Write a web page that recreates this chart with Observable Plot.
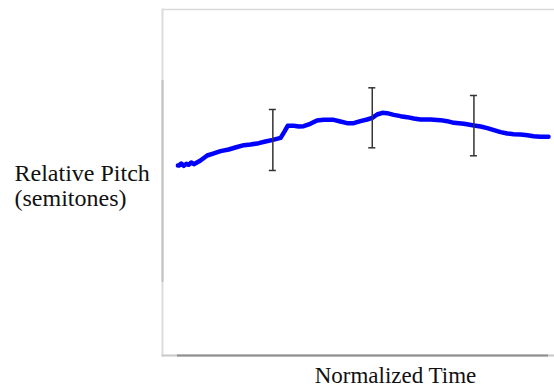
<!DOCTYPE html>
<html>
<head>
<meta charset="utf-8">
<script src="https://cdn.jsdelivr.net/npm/d3@7"></script>
<script src="https://cdn.jsdelivr.net/npm/@observablehq/plot@0.6"></script>
<style>
  html, body { margin: 0; padding: 0; background: #fff; }
  #chart svg { display: block; }
</style>
</head>
<body>
<div id="chart"></div>
<script>
// Normalized time (0–1) and relative pitch (semitones)
const time = [0.001, 0.004, 0.010, 0.017, 0.024, 0.030, 0.037, 0.044, 0.062, 0.080, 0.094, 0.116, 0.138, 0.156, 0.179, 0.197, 0.219, 0.237, 0.257, 0.278, 0.289, 0.297, 0.313, 0.327, 0.340, 0.358, 0.376, 0.394, 0.421, 0.439, 0.457, 0.475, 0.493, 0.511, 0.525, 0.538, 0.552, 0.565, 0.583, 0.601, 0.619, 0.637, 0.655, 0.682, 0.709, 0.727, 0.745, 0.772, 0.799, 0.817, 0.835, 0.853, 0.871, 0.889, 0.906, 0.925, 0.943, 0.960, 0.978, 1.000];
const pitch = [0.317, 0.317, 0.356, 0.310, 0.350, 0.330, 0.376, 0.343, 0.416, 0.515, 0.548, 0.601, 0.634, 0.673, 0.719, 0.733, 0.759, 0.792, 0.825, 0.865, 0.997, 1.102, 1.102, 1.089, 1.096, 1.142, 1.208, 1.221, 1.221, 1.188, 1.155, 1.155, 1.195, 1.228, 1.261, 1.327, 1.360, 1.353, 1.320, 1.294, 1.274, 1.248, 1.228, 1.228, 1.215, 1.195, 1.162, 1.142, 1.109, 1.089, 1.056, 1.016, 0.977, 0.950, 0.937, 0.931, 0.917, 0.898, 0.884, 0.884];

// Error bars
const errTime = [0.257, 0.525, 0.799];
const errLow  = [0.218, 0.667, 0.509];
const errHigh = [1.426, 1.855, 1.703];

const yLabel = "Relative Pitch\n(semitones)";
const xLabel = "Normalized Time";

const series = time.map((t, i) => ({t, v: pitch[i]}));
const errs = errTime.map((t, i) => ({t, lo: errLow[i], hi: errHigh[i]}));
const cap = 0.0095;

const font = "Liberation Serif";

const chart = Plot.plot({
  width: 554,
  height: 387,
  marginLeft: 162,
  marginRight: 0,
  marginTop: 9,
  marginBottom: 32,
  style: {fontFamily: font, background: "#fff", overflow: "visible"},
  x: {domain: [0, 1], insetLeft: 15, insetRight: 6, axis: null},
  y: {domain: [-2, 2], insetTop: 71, insetBottom: 73, axis: null},
  marks: [
    Plot.frame({anchor: "top", stroke: "#d9d9d9", strokeWidth: 1.5}),
    Plot.frame({anchor: "left", stroke: "#dcdcdc", strokeWidth: 2}),
    Plot.frame({anchor: "bottom", stroke: "#c8c8c8", strokeWidth: 2}),
    Plot.ruleX([0], {x: 0, dx: -15, y1: -2, y2: 2, stroke: "#c2c2c2", strokeWidth: 2}),
    Plot.ruleY([-2], {y: -2, dy: 73, x1: 0, x2: 1, stroke: "#8e8e8e", strokeWidth: 2}),
    Plot.line(series, {x: "t", y: "v", stroke: "#0000ff", strokeWidth: 4.5, strokeLinecap: "round", strokeLinejoin: "round"}),
    Plot.ruleX(errs, {x: "t", y1: "lo", y2: "hi", stroke: "#333", strokeWidth: 1.5}),
    Plot.ruleY(errs, {y: "hi", x1: d => d.t - cap, x2: d => d.t + cap, stroke: "#333", strokeWidth: 1.5}),
    Plot.ruleY(errs, {y: "lo", x1: d => d.t - cap, x2: d => d.t + cap, stroke: "#333", strokeWidth: 1.5}),
    Plot.text([yLabel], {text: d => d, frameAnchor: "left", textAnchor: "start", lineAnchor: "middle", dx: -148, dy: 3, fontSize: 24, fontFamily: font, lineHeight: 1.04, fill: "#111"}),
    Plot.text([xLabel], {text: d => d, frameAnchor: "bottom", textAnchor: "middle", lineAnchor: "bottom", dx: 37, dy: 27, fontSize: 23, fontFamily: font, fill: "#111"})
  ]
});
document.getElementById("chart").appendChild(chart);
</script>
</body>
</html>
